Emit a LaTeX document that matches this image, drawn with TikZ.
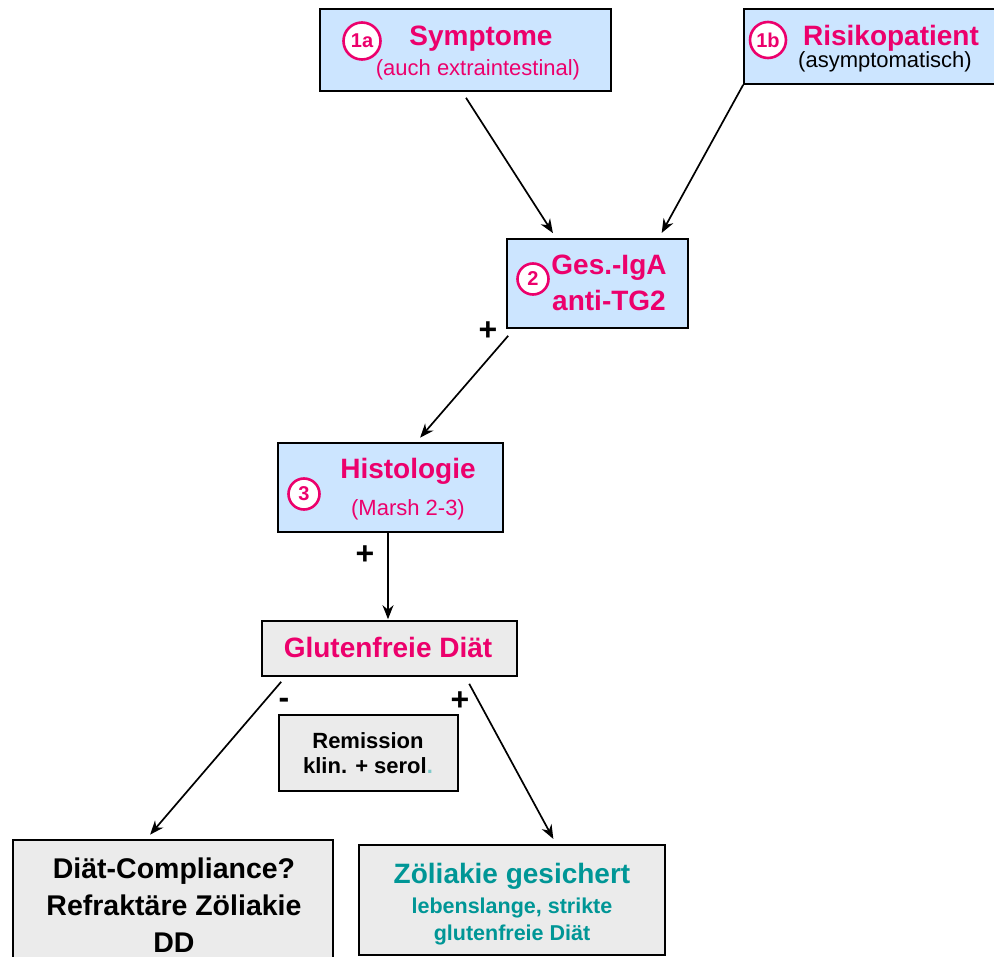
\documentclass[tikz,border=0pt]{standalone}
\usepackage{fontspec}
\setmainfont{Liberation Sans}
\usetikzlibrary{calc,arrows.meta}

\definecolor{pinkc}{RGB}{236,0,108}
\definecolor{bluefill}{RGB}{204,229,255}
\definecolor{greyfill}{RGB}{235,235,235}
\definecolor{tealc}{RGB}{0,150,150}

\tikzset{
  box/.style={draw=black, line width=1.6pt, inner sep=0pt},
  bluebox/.style={box, fill=bluefill},
  greybox/.style={box, fill=greyfill},
  ttl/.style={anchor=base, inner sep=0pt, text=pinkc, font=\bfseries\fontsize{28}{30}\selectfont},
  sub/.style={anchor=base, inner sep=0pt, text=pinkc, font=\fontsize{22}{24}\selectfont},
  numc/.style={circle, draw=pinkc, line width=2.6pt, fill=white, inner sep=0pt,
    text=pinkc, font=\bfseries\fontsize{20}{22}\selectfont},
  blk/.style={anchor=base, inner sep=0pt, text=black, font=\bfseries\fontsize{22}{24}\selectfont},
  big/.style={anchor=base, inner sep=0pt, text=black, font=\bfseries\fontsize{28.5}{31}\selectfont},
  tl/.style={anchor=base, inner sep=0pt, text=tealc, font=\bfseries\fontsize{28}{30}\selectfont},
  tls/.style={anchor=base, inner sep=0pt, text=tealc, font=\bfseries\fontsize{21.5}{23}\selectfont},
  sgn/.style={anchor=base, inner sep=0pt, text=black, font=\bfseries\fontsize{32}{34}\selectfont},
  conn/.style={line width=1.7pt, -{Stealth[length=14pt,width=11pt]}, shorten >=6pt}
}

\begin{document}
\begin{tikzpicture}[x=1pt,y=-1pt]
\useasboundingbox (0,0) rectangle (994,957);

% boxes
\node[bluebox, minimum width=291pt, minimum height=82pt] (sym)  at (465.5,50) {};
\node[bluebox, minimum width=256pt, minimum height=75pt] (risk) at (872,46.5) {};
\node[bluebox, minimum width=181pt, minimum height=89pt] (ges)  at (597.5,283.5) {};
\node[bluebox, minimum width=225pt, minimum height=89pt] (hist) at (390.5,487.5) {};
\node[greybox, minimum width=255pt, minimum height=55pt] (gfd)  at (389.5,648.5) {};
\node[greybox, minimum width=179pt, minimum height=76pt] (rem)  at (368.5,753) {};
\node[greybox, minimum width=320pt, minimum height=122pt] (dc)  at (173,901) {};
\node[greybox, minimum width=306pt, minimum height=110pt] (zs)  at (512,900) {};

% texts
\node[ttl] (symT) at (481,46) {Symptome};
\node[sub] (symS) at (478,76) {(auch extraintestinal)};
\node[numc, minimum size=37pt] (n1a) at (362,41) {1a};

\node[ttl] (riskT) at (891,46) {Risikopatient};
\node[sub, text=black] (riskS) at (885,68) {(asymptomatisch)};
\node[numc, minimum size=36pt] (n1b) at (768,40) {1b};

\node[ttl] (gesA) at (609,275) {Ges.-IgA};
\node[ttl] (gesB) at (609,311) {anti-TG2};
\node[numc, minimum size=31pt] (n2) at (533,279) {2};

\node[ttl] (histT) at (408,479) {Histologie};
\node[sub] (histS) at (408,516) {(Marsh 2-3)};
\node[numc, minimum size=31pt] (n3) at (304,494) {3};

\node[ttl] (gfdT) at (388,657) {Glutenfreie Diät};

\node[blk] (remA) at (368,748) {Remission};
\node[blk] (remB) at (368,773) {klin. + serol\textcolor{tealc!50}{.}};

\node[big] (dcA) at (174,878) {Diät-Compliance?};
\node[big] (dcB) at (174,915) {Refraktäre Zöliakie};
\node[big] (dcC) at (174,952) {DD};

\node[tl]  (zsA) at (512,883) {Zöliakie gesichert};
\node[tls] (zsB) at (512,913) {lebenslange, strikte};
\node[tls] (zsC) at (512,940) {glutenfreie Diät};

% signs at the branches
\node[sgn] (p1) at (488,341) {+};
\node[sgn] (p2) at (365,564) {+};
\node[sgn] (m1) at (284,708) {-};
\node[sgn] (p3) at (460,710) {+};

% connectors
\draw[conn] ($(sym.south)+(0.5,6)$) -- ($(ges.north west)+(50,0)$);
\draw[conn] (risk.south west) -- ($(ges.north east)+(-30,0)$);
\draw[conn] ($(ges.south west)+(2,7)$) -- ($(hist.north west)+(139,0)$);
\draw[conn, shorten >=1pt] ($(hist.south)+(-2.5,0)$) -- ($(gfd.north)+(-1.5,0)$);
\draw[conn] ($(gfd.south west)+(20,5)$) -- ($(dc.north west)+(134,0)$);
\draw[conn] ($(gfd.south west)+(208,7)$) -- ($(zs.north west)+(198,0)$);
\end{tikzpicture}
\end{document}
